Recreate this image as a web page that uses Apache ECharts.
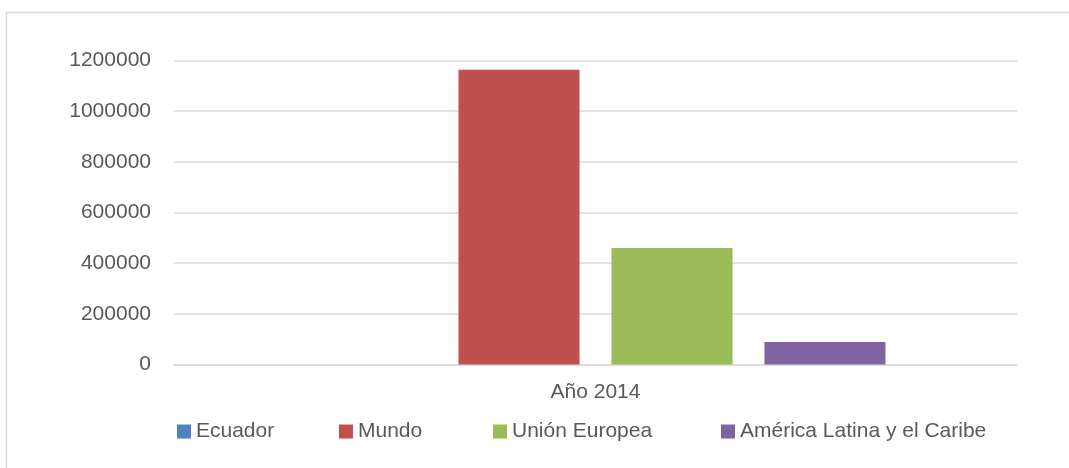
<!DOCTYPE html>
<html>
<head>
<meta charset="utf-8">
<script src="https://cdn.jsdelivr.net/npm/echarts@6/dist/echarts.min.js"></script>
<style>
  html, body {margin: 0; padding: 0; background: #fff;}
  #main {width: 1069px; height: 468px;}
</style>
</head>
<body>
<div id="main"></div>
<script>
// datos
var categorias = ['Año 2014'];
var series = ['Ecuador', 'Mundo', 'Unión Europea', 'América Latina y el Caribe'];
var ecuador = [0];
var mundo = [1163000];
var unionEuropea = [460000];
var americaLatina = [89000];
var colores = ['#4f81bd', '#c0504d', '#9bbb59', '#8064a2'];

var valores = [ecuador, mundo, unionEuropea, americaLatina];
var fuente = 'Liberation Sans';
var gris = '#595959';
// posición x de cada entrada de la leyenda
var leyendaX = [177, 339, 493, 721];

var myChart = echarts.init(document.getElementById('main'));
myChart.setOption({
    animation: false,
    color: colores,
    textStyle: {fontFamily: fuente},
    graphic: [{
        type: 'rect',
        shape: {x: 6.5, y: 12.5, width: 1100, height: 500},
        style: {fill: 'none', stroke: '#d9d9d9', lineWidth: 1.5},
        silent: true
    }],
    grid: {
        left: 174,
        right: 52,
        top: 60.5,
        bottom: 103.5,
        containLabel: false,
        outerBoundsMode: 'none'
    },
    legend: series.map(function (nombre, i) {
        return {
            data: [nombre],
            left: leyendaX[i],
            top: 421,
            padding: 0,
            itemWidth: 14,
            itemHeight: 14,
            icon: 'rect',
            textStyle: {fontFamily: fuente, fontSize: 21, color: gris}
        };
    }),
    xAxis: {
        type: 'category',
        data: categorias,
        axisLine: {lineStyle: {color: '#d9d9d9', width: 1.5}},
        axisTick: {show: false},
        axisLabel: {fontFamily: fuente, fontSize: 21, color: gris, margin: 17}
    },
    yAxis: {
        type: 'value',
        min: 0,
        max: 1200000,
        interval: 200000,
        axisLine: {show: false},
        axisTick: {show: false},
        splitLine: {lineStyle: {color: '#d9d9d9', width: 1.5}},
        axisLabel: {
            fontFamily: fuente, fontSize: 21, color: gris, margin: 23,
            formatter: function (v) { return String(v); }
        }
    },
    series: series.map(function (nombre, i) {
        return {
            name: nombre,
            type: 'bar',
            data: valores[i],
            barCategoryGap: '31.2%',
            barGap: '26.4%'
        };
    })
});
</script>
</body>
</html>
